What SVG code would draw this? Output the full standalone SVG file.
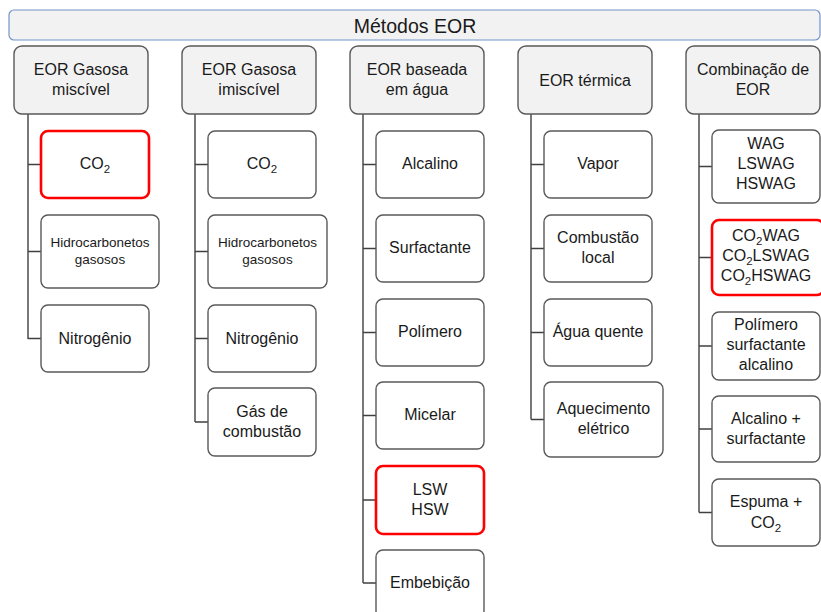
<svg xmlns="http://www.w3.org/2000/svg" width="821" height="612" viewBox="0 0 821 612">
  <style>
    text { font-family: "Liberation Sans", Arial, sans-serif; font-size: 16px; fill: #1a1a1a; text-anchor: middle; }
    .title { font-size: 19.5px; }
    .small { font-size: 13.5px; }
    .bar { fill: #f2f2f2; stroke: #7393c9; stroke-width: 1.2; }
    .head { fill: #f2f2f2; stroke: #595959; stroke-width: 1.4; }
    .box { fill: #ffffff; stroke: #595959; stroke-width: 1.4; }
    .hl { fill: #ffffff; stroke: #ff0000; stroke-width: 2.6; }
    .conn { fill: none; stroke: #404040; stroke-width: 1.4; }
  </style>

  <rect width="821" height="612" fill="#ffffff"/>

  <!-- title bar -->
  <g id="root">
    <rect class="bar" x="9" y="10" width="811" height="30" rx="5"/>
    <text class="title" x="415" y="32.5">Métodos EOR</text>
  </g>

  <!-- connectors -->
  <g id="connectors">
    <path class="conn" d="M28 114V339M28 164.5H41M28 251.5H41M28 338.5H41"/>
    <path class="conn" d="M195 114V422M195 164.5H208M195 251.5H208M195 338.5H208M195 422H208"/>
    <path class="conn" d="M363 114V583M363 164.5H376M363 248.5H376M363 332.5H376M363 415.5H376M363 500H376M363 583H376"/>
    <path class="conn" d="M531 114V419.5M531 164.5H544M531 248.5H544M531 332.5H544M531 419.5H544"/>
    <path class="conn" d="M699 114V512.5M699 166.5H712M699 257.5H712M699 346H712M699 429H712M699 512.5H712"/>
  </g>

  <!-- column headers -->
  <g id="h-miscivel">
    <rect class="head" x="14" y="46" width="134" height="68" rx="8"/>
    <text x="81" y="75">EOR Gasosa</text>
    <text x="81" y="95">miscível</text>
  </g>
  <g id="h-imiscivel">
    <rect class="head" x="182" y="46" width="134" height="68" rx="8"/>
    <text x="249" y="75">EOR Gasosa</text>
    <text x="249" y="95">imiscível</text>
  </g>
  <g id="h-agua">
    <rect class="head" x="350" y="46" width="134" height="68" rx="8"/>
    <text x="417" y="75">EOR baseada</text>
    <text x="417" y="95">em água</text>
  </g>
  <g id="h-termica">
    <rect class="head" x="518" y="46" width="134" height="68" rx="8"/>
    <text x="585" y="85.5">EOR térmica</text>
  </g>
  <g id="h-combinacao">
    <rect class="head" x="686" y="46" width="134" height="68" rx="8"/>
    <text x="753" y="75">Combinação de</text>
    <text x="753" y="95">EOR</text>
  </g>

  <!-- EOR gasosa miscível -->
  <g id="m-co2">
    <rect class="hl" x="41" y="131" width="108" height="67" rx="7"/>
    <text x="95" y="169">CO<tspan font-size="11.5" dy="4">2</tspan></text>
  </g>
  <g id="m-hc">
    <rect class="box" x="41" y="215" width="118" height="73" rx="7"/>
    <text class="small" x="100" y="246.5">Hidrocarbonetos</text>
    <text class="small" x="100" y="263.5">gasosos</text>
  </g>
  <g id="m-n2">
    <rect class="box" x="41" y="305" width="108" height="67" rx="7"/>
    <text x="95" y="344">Nitrogênio</text>
  </g>

  <!-- EOR gasosa imiscível -->
  <g id="i-co2">
    <rect class="box" x="208" y="131" width="108" height="67" rx="7"/>
    <text x="262" y="169">CO<tspan font-size="11.5" dy="4">2</tspan></text>
  </g>
  <g id="i-hc">
    <rect class="box" x="208" y="215" width="119" height="73" rx="7"/>
    <text class="small" x="267.5" y="246.5">Hidrocarbonetos</text>
    <text class="small" x="267.5" y="263.5">gasosos</text>
  </g>
  <g id="i-n2">
    <rect class="box" x="208" y="305" width="108" height="67" rx="7"/>
    <text x="262" y="344">Nitrogênio</text>
  </g>
  <g id="i-gas">
    <rect class="box" x="208" y="388" width="108" height="68" rx="7"/>
    <text x="262" y="417">Gás de</text>
    <text x="262" y="437">combustão</text>
  </g>

  <!-- EOR baseada em água -->
  <g id="a-alcalino">
    <rect class="box" x="376" y="131" width="108" height="67" rx="7"/>
    <text x="430" y="169">Alcalino</text>
  </g>
  <g id="a-surfactante">
    <rect class="box" x="376" y="215" width="108" height="67" rx="7"/>
    <text x="430" y="253">Surfactante</text>
  </g>
  <g id="a-polimero">
    <rect class="box" x="376" y="299" width="108" height="67" rx="7"/>
    <text x="430" y="337">Polímero</text>
  </g>
  <g id="a-micelar">
    <rect class="box" x="376" y="382" width="108" height="67" rx="7"/>
    <text x="430" y="420">Micelar</text>
  </g>
  <g id="a-lsw">
    <rect class="hl" x="376" y="466" width="108" height="68" rx="7"/>
    <text x="430" y="495">LSW</text>
    <text x="430" y="515">HSW</text>
  </g>
  <g id="a-embebicao">
    <rect class="box" x="376" y="550" width="108" height="68" rx="7"/>
    <text x="430" y="588">Embebição</text>
  </g>

  <!-- EOR térmica -->
  <g id="t-vapor">
    <rect class="box" x="544" y="131" width="108" height="67" rx="7"/>
    <text x="598" y="169">Vapor</text>
  </g>
  <g id="t-combustao">
    <rect class="box" x="544" y="215" width="108" height="67" rx="7"/>
    <text x="598" y="243">Combustão</text>
    <text x="598" y="263">local</text>
  </g>
  <g id="t-agua">
    <rect class="box" x="544" y="299" width="108" height="67" rx="7"/>
    <text x="598" y="337">Água quente</text>
  </g>
  <g id="t-aquecimento">
    <rect class="box" x="544" y="382" width="119" height="75" rx="7"/>
    <text x="603.5" y="414">Aquecimento</text>
    <text x="603.5" y="434">elétrico</text>
  </g>

  <!-- Combinação de EOR -->
  <g id="c-wag">
    <rect class="box" x="712" y="130" width="108" height="73" rx="7"/>
    <text x="766" y="149">WAG</text>
    <text x="766" y="169">LSWAG</text>
    <text x="766" y="189">HSWAG</text>
  </g>
  <g id="c-co2wag">
    <rect class="hl" x="712" y="220" width="112" height="75" rx="7"/>
    <text x="766" y="241">CO<tspan font-size="11.5" dy="4">2</tspan><tspan dy="-4">WAG</tspan></text>
    <text x="766" y="261">CO<tspan font-size="11.5" dy="4">2</tspan><tspan dy="-4">LSWAG</tspan></text>
    <text x="766" y="281">CO<tspan font-size="11.5" dy="4">2</tspan><tspan dy="-4">HSWAG</tspan></text>
  </g>
  <g id="c-polimero">
    <rect class="box" x="712" y="312" width="108" height="68" rx="7"/>
    <text x="766" y="330">Polímero</text>
    <text x="766" y="350">surfactante</text>
    <text x="766" y="370">alcalino</text>
  </g>
  <g id="c-alcalino">
    <rect class="box" x="712" y="396" width="108" height="66" rx="7"/>
    <text x="766" y="424">Alcalino +</text>
    <text x="766" y="444">surfactante</text>
  </g>
  <g id="c-espuma">
    <rect class="box" x="712" y="479" width="108" height="67" rx="7"/>
    <text x="766" y="507">Espuma +</text>
    <text x="766" y="528">CO<tspan font-size="11.5" dy="4">2</tspan></text>
  </g>
</svg>
